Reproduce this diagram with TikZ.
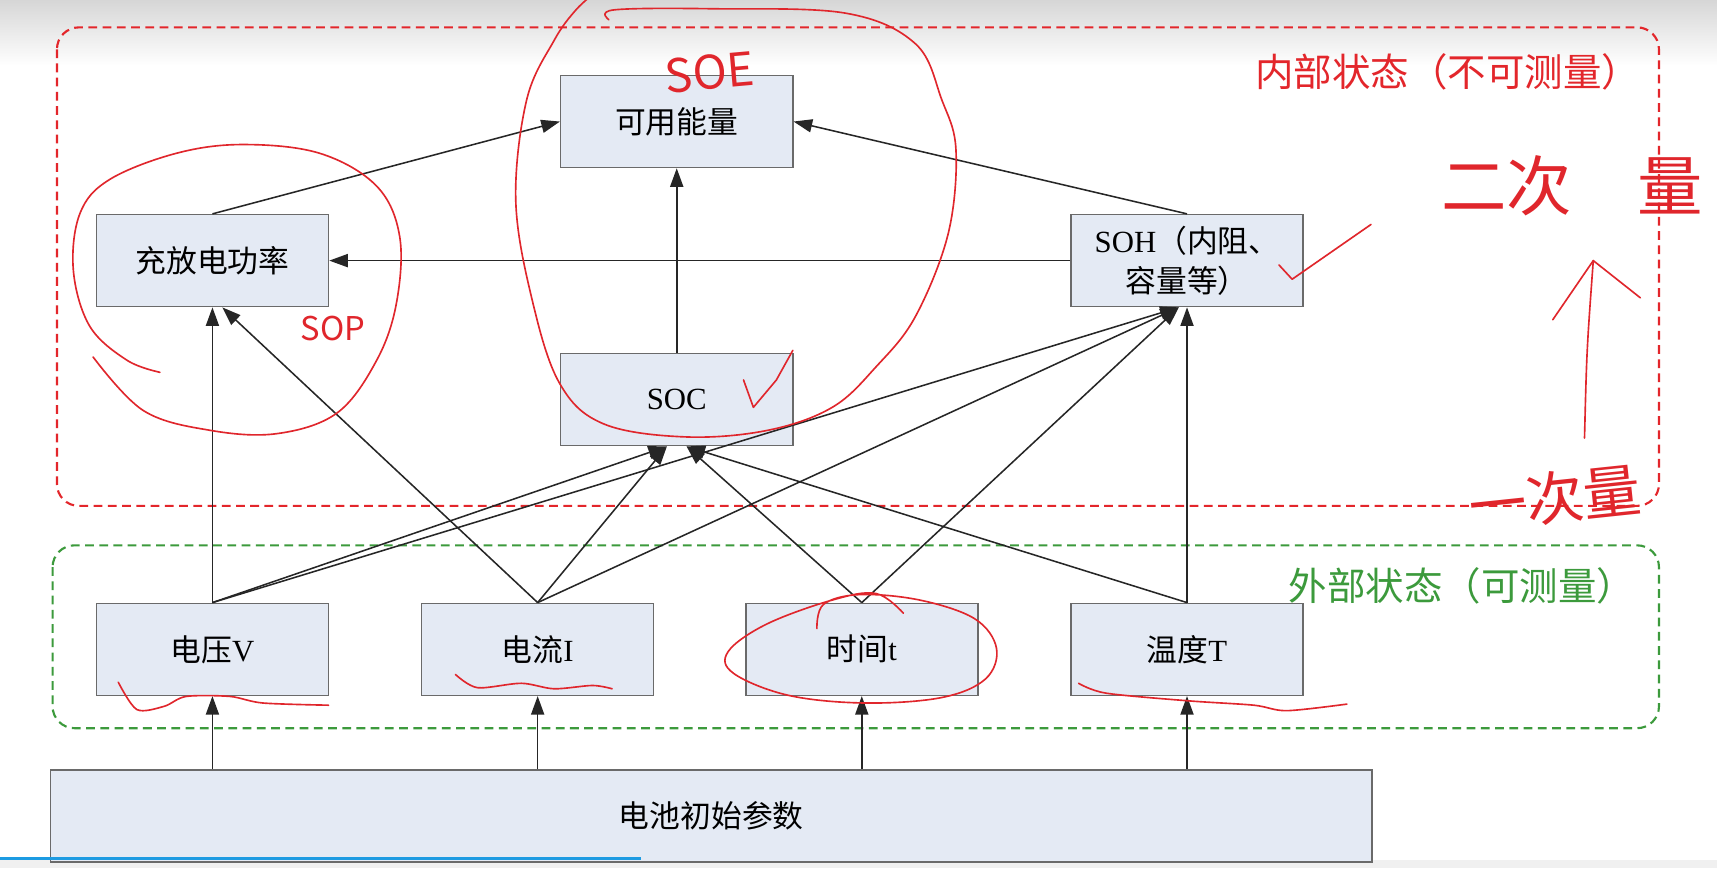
\documentclass[tikz,border=0pt]{standalone}
\usepackage{fontspec}
\setmainfont{Liberation Serif}
\newfontfamily\cjk{Noto Sans CJK SC}
\usetikzlibrary{arrows.meta}
\definecolor{boxfill}{HTML}{E4EAF4}
\definecolor{boxline}{HTML}{6A6A6A}
\definecolor{inred}{HTML}{E3262B}
\definecolor{outgreen}{HTML}{3C9A3C}
\definecolor{penred}{HTML}{E0262C}
\definecolor{barblue}{HTML}{1D9BE2}

\begin{document}
\begin{tikzpicture}[x=0.02cm,y=-0.02cm,
    blk/.style={draw=boxline,fill=boxfill,line width=0.8pt,minimum width=4.24cm,minimum height=1.68cm,inner sep=0pt,align=center,font=\fontsize{16}{21}\selectfont},
    arr/.style={draw=black!85,line width=0.8pt,-{Triangle[length=0.34cm,width=0.24cm]}},
    zone/.style={line width=1.1pt,dash pattern=on 0.16cm off 0.1cm,rounded corners=0.4cm},
    ink/.style={draw=penred,line width=0.85pt,line cap=round,line join=round},
    note/.style={text=penred,inner sep=0pt}]
                    \useasboundingbox (0,0) rectangle (1568,793);
                    \fill[white] (0,0) rectangle (1568,793);
                    \shade[top color=black!16,bottom color=white] (0,0) rectangle (1568,60);
                    \fill[black!6] (0,785) rectangle (1568,793);

                    \draw[zone,draw=inred] (52,25) rectangle (1515,462);
                    \draw[zone,draw=outgreen] (48,498) rectangle (1515,665);
                    \node[text=inred,font=\cjk\fontsize{20}{24}\selectfont] (inlbl) at (1322,66) {内部状态（不可测量）};
                    \node[text=outgreen,font=\cjk\fontsize{20}{24}\selectfont] (outlbl) at (1335,535) {外部状态（可测量）};

                    \node[blk] (avail) at (618,111) {\cjk 可用能量};
                    \node[blk] (pwr) at (194,238) {\cjk 充放电功率};
                    \node[blk] (soh) at (1084,238) {SOH{\cjk （内阻、}\\{\cjk 容量等）}};
                    \node[blk] (soc) at (618,365) {SOC};
                    \node[blk] (volt) at (194,593) {{\cjk 电压}V};
                    \node[blk] (curr) at (491,593) {{\cjk 电流}I};
                    \node[blk] (time) at (787,593) {{\cjk 时间}t};
                    \node[blk] (temp) at (1084,593) {{\cjk 温度}T};
                    \node[blk,minimum width=24.14cm] (init) at (649.5,745) {\cjk 电池初始参数};

                    \draw[arr] (pwr.north) -- (avail.west);
                    \draw[arr] (soh.north) -- (avail.east);
                    \draw[arr] (soc.north) -- (avail.south);
                    \draw[arr] (soh.west) -- (pwr.east);
                    \draw[arr] (volt.north) -- (pwr.south);
                    \draw[arr] (curr.north) -- ([xshift=0.18cm]pwr.south);
                    \draw[arr] (volt.north) -- ([xshift=-0.18cm]soc.south);
                    \draw[arr] (curr.north) -- ([xshift=-0.18cm]soc.south);
                    \draw[arr] (time.north) -- ([xshift=0.18cm]soc.south);
                    \draw[arr] (temp.north) -- ([xshift=0.18cm]soc.south);
                    \draw[arr] (volt.north) -- ([xshift=-0.15cm]soh.south);
                    \draw[arr] (curr.north) -- ([xshift=-0.15cm]soh.south);
                    \draw[arr] (time.north) -- ([xshift=-0.15cm]soh.south);
                    \draw[arr] (temp.north) -- (soh.south);
                    \foreach \b in {volt,curr,time,temp}
                        \draw[arr] (init.north -| \b) -- (\b.south);

                    \draw[barblue,line width=2pt] (0,784) -- (585,784);

                    \draw[ink] plot[smooth,tension=0.6] coordinates {(556,18) (561,9) (651,8) (772,12) (836,40) (860,91) (873,137) (866,213) (836,289) (800,335) (760,372) (701,393) (626,399) (551,387) (511,350) (486,274) (471,183) (481,91) (506,37) (526,9) (545,-8)};
                    \draw[ink] plot[smooth,tension=0.6] coordinates {(146,340) (116,329) (82,298) (67,247) (73,195) (100,164) (161,140) (222,132) (292,140) (344,170) (365,216) (362,277) (344,329) (308,377) (253,396) (192,393) (131,375) (85,326)};
                    \draw[ink] plot[smooth,tension=0.6] coordinates {(746,574) (752,552) (785,543) (840,548) (890,565) (910,592) (900,620) (860,637) (790,642) (720,635) (670,615) (665,595) (700,570) (760,548) (800,542) (825,560)};
                    \draw[ink] plot[smooth,tension=0.5] coordinates {(108,623) (125,648) (150,645) (170,636) (210,636) (240,642) (300,644)};
                    \draw[ink] plot[smooth,tension=0.5] coordinates {(416,616) (436,628) (476,624) (506,629) (541,626) (559,629)};
                    \draw[ink] plot[smooth,tension=0.5] coordinates {(985,624) (1010,633) (1085,640) (1145,644) (1175,649) (1230,643)};
                    \draw[ink] (679,347) -- (688,372) -- (709,347) -- (724,320);
                    \draw[ink] (1168,242) -- (1180,255) -- (1252,205);

                    \node[note,font=\cjk\fontsize{24}{28}\selectfont,rotate=5] (soe) at (648,66) {SOE};
                    \node[note,font=\cjk\fontsize{17}{20}\selectfont] (sop) at (304,300) {SOP};
                    \node[note,font=\cjk\fontsize{34}{40}\selectfont,anchor=west] (second) at (1316,170) {二次\hspace{1.2cm}量};
                    \node[note,font=\cjk\fontsize{30}{36}\selectfont,rotate=6] (first) at (1420,455) {一次量};
                    \coordinate (upfoot) at (1447,400);
                    \coordinate (uptip) at (1455,238);
                    \draw[ink] (upfoot) .. controls (1449,320) .. (uptip);
                    \draw[ink] (1418,292) -- (uptip) -- (1498,272);
                \end{tikzpicture}
\end{document}
